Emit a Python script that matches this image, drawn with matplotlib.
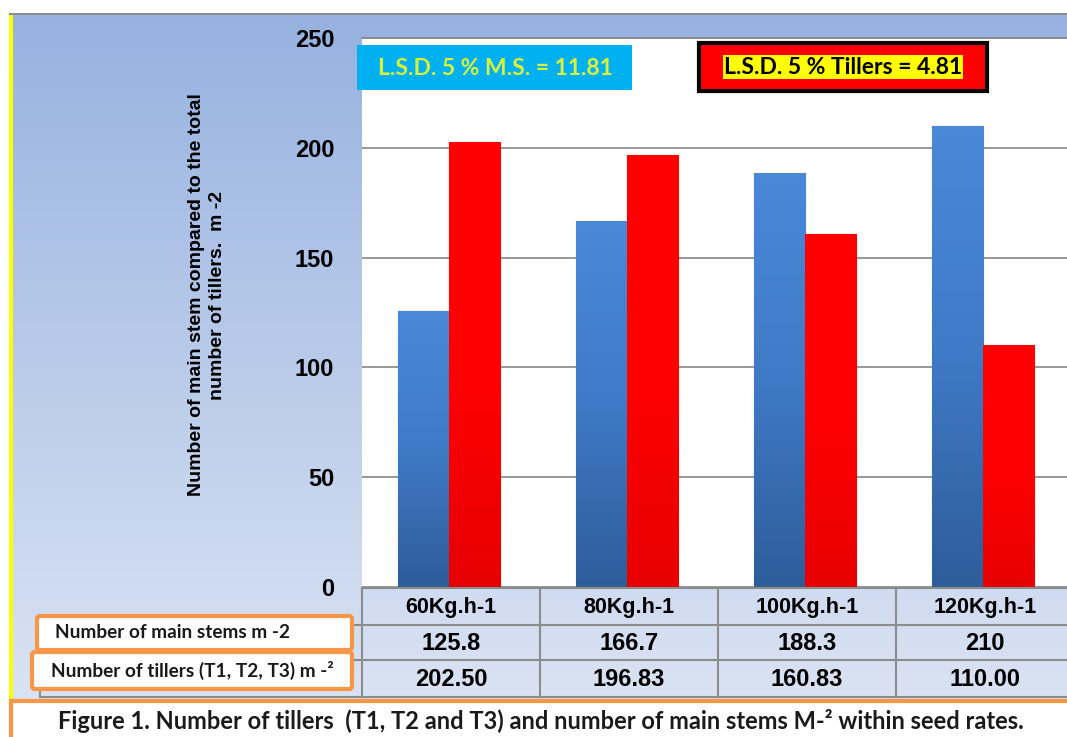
import numpy as np
import matplotlib.pyplot as plt
from matplotlib.colors import LinearSegmentedColormap
from matplotlib.patches import Rectangle, FancyBboxPatch
from matplotlib.transforms import blended_transform_factory

# ---- data -------------------------------------------------------------
seed_rates = ["60", "80", "100", "120"]
main_stems = [125.8, 166.7, 188.3, 210]
tillers = [202.50, 196.83, 160.83, 110.00]
main_stems_txt = ["125.8", "166.7", "188.3", "210"]
tillers_txt = ["202.50", "196.83", "160.83", "110.00"]
yticks = [0, 50, 100, 150, 200, 250]
row_labels = ["Number of main stems m -2", "Number of tillers (T1, T2, T3) m -\u00b2"]
lsd_ms = "L.S.D. 5 % M.S. = 11.81"
lsd_tillers = "L.S.D. 5 % Tillers = 4.81"
ylabel = "Number of main stem compared to the total\nnumber of tillers.  m -2"
caption = ("Figure 1. Number of tillers  (T1, T2 and T3) and number of main stems "
           "M-\u00b2 within seed rates.")

W, H = 1067, 737
ARIAL = ["Liberation Sans", "DejaVu Sans"]
CALIBRI = ["Lato", "DejaVu Sans"]

fig = plt.figure(figsize=(W / 100, H / 100), dpi=100)
fig.patch.set_facecolor("white")


def pixel_layer(z):
    a = fig.add_axes([0, 0, 1, 1], zorder=z)
    a.set_xlim(0, W)
    a.set_ylim(H, 0)
    a.axis("off")
    a.patch.set_alpha(0)
    return a


# ---- background panel -------------------------------------------------
bg = pixel_layer(0)
grad = np.linspace(0, 1, 256).reshape(-1, 1)
bg.imshow(grad, cmap=LinearSegmentedColormap.from_list("bg", ["#97b2e0", "#dae3f3"]),
          extent=(10, W, 700, 14), aspect="auto")
bg.set_xlim(0, W)
bg.set_ylim(H, 0)
bg.plot([10, W], [14, 14], color="#8c8c8c", lw=1.5)
bg.add_patch(Rectangle((9, 14), 4, 686, color="#ffff00", lw=0))

bg.text(207, 295, ylabel, rotation=90, ha="center", va="center", multialignment="center",
        fontsize=14, fontweight="bold", family=ARIAL, linespacing=1.25)

# ---- main bar chart ---------------------------------------------------
ax = fig.add_axes([362 / W, 1 - 587 / H, 712 / W, 549 / H], zorder=2)
ax.set_facecolor("white")
x = np.arange(len(seed_rates))
bw = 0.287
blue_bars = ax.bar(x - bw / 2 - 0.01, main_stems, bw, color="#3d78c4", zorder=3,
                   edgecolor="#2a5690", lw=0.8)
red_bars = ax.bar(x + bw / 2 - 0.01, tillers, bw, color="#ff0000", zorder=3,
                  edgecolor="#c80000", lw=0.8)

# shading inside the bars
blue_cmap = LinearSegmentedColormap.from_list("b", ["#2e5d9a", "#3f7ac6", "#4a88d8"])
red_cmap = LinearSegmentedColormap.from_list("r", ["#e80000", "#ff0000", "#ff0000"])
vgrad = np.linspace(0, 1, 128).reshape(-1, 1)
for bars, cm in ((blue_bars, blue_cmap), (red_bars, red_cmap)):
    for b in bars:
        x0, y0 = b.get_x(), b.get_y()
        im = ax.imshow(vgrad, cmap=cm, origin="lower", aspect="auto", zorder=3.5,
                       extent=(x0, x0 + b.get_width(), y0, y0 + b.get_height()))
        im.set_clip_path(b)

ax.set_xlim(-0.5, 3.5)
ax.set_ylim(0, 250)
ax.set_yticks(yticks)
ax.set_yticklabels([str(v) for v in yticks], fontsize=17, fontweight="bold", family=ARIAL)
ax.tick_params(axis="y", length=0, pad=20)
ax.tick_params(axis="x", length=0, labelbottom=False)
ax.grid(axis="y", color="#868686", lw=1.2, zorder=0)
for s in ("left", "right", "bottom"):
    ax.spines[s].set_visible(False)
ax.spines["top"].set_color("#868686")
ax.spines["top"].set_linewidth(1.2)

# ---- data table below the axis ----------------------------------------
fg = pixel_layer(5)
tr = blended_transform_factory(ax.transData, fg.transData)
row_y = [607, 643, 679]
for i, r in enumerate(seed_rates):
    fg.text(i, row_y[0], f"{r}Kg.h-1", transform=tr, ha="center", va="center",
            fontsize=15.5, fontweight="bold", family=ARIAL)
    fg.text(i, row_y[1], main_stems_txt[i], transform=tr, ha="center", va="center",
            fontsize=17, fontweight="bold", family=ARIAL)
    fg.text(i, row_y[2], tillers_txt[i], transform=tr, ha="center", va="center",
            fontsize=17, fontweight="bold", family=ARIAL)

grid_c = "#8c8c8c"
fg.plot([362, W], [588, 588], color=grid_c, lw=1.5)
for yy in (625, 660, 697):
    fg.plot([40, W], [yy, yy], color=grid_c, lw=1.5)
fg.plot([40, 40], [625, 697], color=grid_c, lw=1.5)
for edge in (-0.5, 0.5, 1.5, 2.5):
    fg.plot([edge, edge], [588, 697], color=grid_c, lw=1.5, transform=tr)

# row-label boxes
for (bx, by, bwid, bh), tx, lab in zip([(37, 616, 315, 34), (32, 652, 320, 37)],
                                       (55, 51), row_labels):
    fg.add_patch(FancyBboxPatch((bx, by), bwid, bh, boxstyle="round,pad=0,rounding_size=3",
                                fc="white", ec="#f79646", lw=3, zorder=6))
    fg.text(tx, by + bh / 2, lab, ha="left", va="center", fontsize=13.7,
            fontweight="bold", family=CALIBRI, color="#1a1a1a", zorder=7)

# LSD boxes
fg.add_patch(Rectangle((357, 45), 275, 45, fc="#00b0f0", ec="none", zorder=6))
fg.text(495, 68, lsd_ms, ha="center", va="center", fontsize=16.5, fontweight="bold",
        family=CALIBRI, color="#d8f23c", zorder=7)
fg.add_patch(Rectangle((699, 43), 288, 48, fc="#ff0000", ec="black", lw=3, zorder=6))
fg.text(843, 67, lsd_tillers, ha="center", va="center", fontsize=16.5, fontweight="bold",
        family=CALIBRI, color="black", zorder=7,
        bbox=dict(boxstyle="square,pad=0.05", fc="#ffff00", ec="none"))

# caption box
fg.add_patch(Rectangle((11, 701), W, 40, fc="white", ec="#f79646", lw=3, zorder=6))
fg.text(541, 721, caption, ha="center", va="center", fontsize=17, fontweight="bold",
        family=CALIBRI, color="#1a1a1a", zorder=7)

fig.savefig("out.png", dpi=100)
